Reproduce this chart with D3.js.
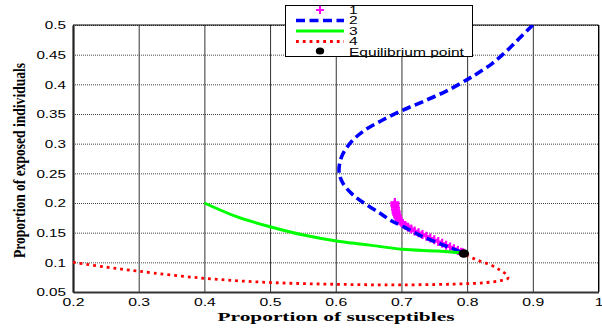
<!DOCTYPE html>
<html>
<head>
<meta charset="utf-8">
<script src="https://cdn.jsdelivr.net/npm/d3@7"></script>
<style>
  html, body { margin: 0; padding: 0; background: #fff; }
  svg { display: block; }
</style>
</head>
<body>
<svg id="chart" width="602" height="328"></svg>
<script>
// Phase-plane trajectories: susceptibles (x) vs exposed (y)
const xTicks = [0.2, 0.3, 0.4, 0.5, 0.6, 0.7, 0.8, 0.9, 1];
const xTickLabels = ["0.2", "0.3", "0.4", "0.5", "0.6", "0.7", "0.8", "0.9", "1"];
const yTicks = [0.05, 0.1, 0.15, 0.2, 0.25, 0.3, 0.35, 0.4, 0.45, 0.5];
const yTickLabels = ["0.05", "0.1", "0.15", "0.2", "0.25", "0.3", "0.35", "0.4", "0.45", "0.5"];

const seriesNames = ["1", "2", "3", "4", "Equilibrium point"];

// trajectory 1 (markers)
const traj1S = [0.690, 0.690, 0.690, 0.691, 0.691, 0.692, 0.692, 0.693, 0.694, 0.695, 0.697, 0.699, 0.702, 0.706, 0.710, 0.715, 0.720, 0.726, 0.732, 0.738, 0.744, 0.750, 0.756, 0.762, 0.768, 0.774, 0.780, 0.786, 0.791, 0.794];
const traj1E = [0.201, 0.198, 0.195, 0.192, 0.189, 0.186, 0.183, 0.180, 0.177, 0.174, 0.171, 0.168, 0.165, 0.162, 0.159, 0.156, 0.153, 0.150, 0.147, 0.144, 0.141, 0.138, 0.135, 0.132, 0.129, 0.126, 0.123, 0.120, 0.117, 0.116];

// trajectory 2 (dashed)
const traj2S = [0.900, 0.880, 0.860, 0.838, 0.815, 0.800, 0.769, 0.733, 0.701, 0.670, 0.642, 0.622, 0.609, 0.605, 0.611, 0.627, 0.647, 0.667, 0.683, 0.703, 0.733, 0.764, 0.789, 0.795];
const traj2E = [0.500, 0.478, 0.456, 0.435, 0.418, 0.408, 0.389, 0.371, 0.356, 0.339, 0.321, 0.301, 0.278, 0.253, 0.233, 0.213, 0.197, 0.183, 0.171, 0.160, 0.143, 0.129, 0.118, 0.115];

// trajectory 3 (solid)
const traj3S = [0.400, 0.449, 0.500, 0.551, 0.601, 0.637, 0.652, 0.701, 0.754, 0.789, 0.795];
const traj3E = [0.200, 0.177, 0.160, 0.146, 0.136, 0.131, 0.129, 0.122, 0.119, 0.116, 0.115];

// trajectory 4 (dotted)
const traj4S = [0.200, 0.250, 0.300, 0.400, 0.500, 0.600, 0.700, 0.800, 0.830, 0.850, 0.862, 0.860, 0.850, 0.835, 0.815, 0.800, 0.795];
const traj4E = [0.100, 0.092, 0.085, 0.073, 0.066, 0.063, 0.062, 0.064, 0.066, 0.069, 0.073, 0.079, 0.087, 0.096, 0.104, 0.112, 0.115];

// equilibrium point
const eqS = [0.795];
const eqE = [0.115];

const colors = { t1: "#ff00ff", t2: "#0000ff", t3: "#00ff00", t4: "#ff0000", eq: "#000000" };

const svg = d3.select("#chart");
const pLeft = 73, pRight = 598.5, pTop = 25, pBottom = 292;

const x = d3.scaleLinear().domain([0.2, 1]).range([pLeft, pRight]);
const y = d3.scaleLinear().domain([0.05, 0.5]).range([pBottom, pTop]);

const zip = (a, b) => a.map((v, i) => [v, b[i]]);

// widen text horizontally
function widen(sel, k) {
  sel.each(function () {
    const w = this.getComputedTextLength();
    d3.select(this).attr("textLength", w * k).attr("lengthAdjust", "spacingAndGlyphs");
  });
}

svg.append("defs").append("clipPath").attr("id", "plotClip")
  .append("rect").attr("x", pLeft).attr("y", pTop).attr("width", pRight - pLeft).attr("height", pBottom - pTop);

// vertical grid
const gx = svg.append("g").attr("transform", `translate(0,${pBottom})`)
  .call(d3.axisBottom(x).tickValues(xTicks).tickSize(-(pBottom - pTop)).tickFormat(""));
gx.select(".domain").remove();
gx.selectAll("line").attr("stroke", "#333").attr("stroke-width", 1);

// horizontal grid
const gy = svg.append("g").attr("transform", `translate(${pLeft},0)`)
  .call(d3.axisLeft(y).tickValues(yTicks).tickSize(-(pRight - pLeft)).tickFormat(""));
gy.select(".domain").remove();
gy.selectAll("line").attr("stroke", "#444").attr("stroke-width", 1).attr("stroke-dasharray", "1,1");

// frame
svg.append("line").attr("x1", pLeft).attr("x2", pRight).attr("y1", pTop).attr("y2", pTop).attr("stroke", "#000").attr("stroke-width", 1);
svg.append("line").attr("x1", pRight).attr("x2", pRight).attr("y1", pTop).attr("y2", pBottom).attr("stroke", "#000").attr("stroke-width", 1);

// axes with labels
const ax = svg.append("g").attr("transform", `translate(0,${pBottom})`)
  .call(d3.axisBottom(x).tickValues(xTicks).tickSize(0).tickFormat((d, i) => xTickLabels[i]));
ax.select(".domain").attr("stroke", "#333").attr("stroke-width", 2.2);
ax.selectAll("text").attr("y", 14).attr("dy", 0)
  .attr("font-family", "'Liberation Sans', Arial, sans-serif").attr("font-size", 10.5).attr("fill", "#000");

const ay = svg.append("g").attr("transform", `translate(${pLeft},0)`)
  .call(d3.axisLeft(y).tickValues(yTicks).tickSize(0).tickFormat((d, i) => yTickLabels[i]));
ay.select(".domain").attr("stroke", "#222").attr("stroke-width", 2.2);
ay.selectAll("text").attr("x", -7).attr("dy", "0.35em")
  .attr("font-family", "'Liberation Sans', Arial, sans-serif").attr("font-size", 10.5).attr("fill", "#000");

widen(ax.selectAll("text"), 1.5);
widen(ay.selectAll("text"), 1.45);

// data layer
const plot = svg.append("g").attr("clip-path", "url(#plotClip)");
const line = d3.line().x(d => x(d[0])).y(d => y(d[1])).curve(d3.curveCatmullRom.alpha(0.5));

// trajectory 1: plus markers
const plusPath = (cx, cy, s) => `M${cx - s},${cy}H${cx + s}M${cx},${cy - s}V${cy + s}`;
plot.append("g").selectAll("path").data(zip(traj1S, traj1E)).join("path")
  .attr("d", d => plusPath(x(d[0]), y(d[1]), 4.5))
  .attr("stroke", colors.t1).attr("stroke-width", 2.2).attr("fill", "none");

plot.append("path").datum(zip(traj2S, traj2E)).attr("d", line)
  .attr("fill", "none").attr("stroke", colors.t2).attr("stroke-width", 3.6).attr("stroke-dasharray", "9,4.5");

plot.append("path").datum(zip(traj3S, traj3E)).attr("d", line)
  .attr("fill", "none").attr("stroke", colors.t3).attr("stroke-width", 3);

plot.append("path").datum(zip(traj4S, traj4E)).attr("d", line)
  .attr("fill", "none").attr("stroke", colors.t4).attr("stroke-width", 2.8).attr("stroke-dasharray", "2.8,4");

plot.append("g").selectAll("ellipse").data(zip(eqS, eqE)).join("ellipse")
  .attr("cx", d => x(d[0])).attr("cy", d => y(d[1])).attr("rx", 5.2).attr("ry", 4.3).attr("fill", colors.eq);

// axis titles
svg.append("text").attr("x", 336).attr("y", 321).attr("text-anchor", "middle")
  .attr("font-family", "'Liberation Serif', 'Times New Roman', serif").attr("font-weight", "bold")
  .attr("font-size", 13).attr("fill", "#000")
  .attr("textLength", 237).attr("lengthAdjust", "spacingAndGlyphs")
  .text("Proportion of susceptibles");

svg.append("text").attr("transform", "translate(24.5,160.5) scale(1.45,1) rotate(-90)")
  .attr("text-anchor", "middle")
  .attr("font-family", "'Liberation Serif', 'Times New Roman', serif").attr("font-weight", "bold")
  .attr("font-size", 12).attr("fill", "#000")
  .attr("textLength", 195).attr("lengthAdjust", "spacingAndGlyphs")
  .text("Proportion of exposed individuals");

// legend
const lg = svg.append("g");
lg.append("rect").attr("x", 285.5).attr("y", 5.5).attr("width", 187).attr("height", 51)
  .attr("fill", "#fff").attr("stroke", "#000").attr("stroke-width", 1);
const rowY = [10, 20.5, 31, 41.5, 52];
const sx0 = 296, sx1 = 344, sxm = 320;
lg.append("path").attr("d", plusPath(sxm, rowY[0], 4)).attr("stroke", colors.t1).attr("stroke-width", 2);
lg.append("line").attr("x1", sx0).attr("x2", sx1).attr("y1", rowY[1]).attr("y2", rowY[1])
  .attr("stroke", colors.t2).attr("stroke-width", 3.6).attr("stroke-dasharray", "9,4.5");
lg.append("line").attr("x1", sx0).attr("x2", sx1).attr("y1", rowY[2]).attr("y2", rowY[2])
  .attr("stroke", colors.t3).attr("stroke-width", 3);
lg.append("line").attr("x1", sx0).attr("x2", sx1).attr("y1", rowY[3]).attr("y2", rowY[3])
  .attr("stroke", colors.t4).attr("stroke-width", 2.8).attr("stroke-dasharray", "2.8,4");
lg.append("ellipse").attr("cx", sxm).attr("cy", rowY[4] - 1).attr("rx", 4.2).attr("ry", 3.6).attr("fill", colors.eq);
const lt = lg.selectAll("text.lab").data(seriesNames).join("text").attr("class", "lab")
  .attr("x", 349).attr("y", (d, i) => rowY[i]).attr("dy", "0.36em")
  .attr("font-family", "'Liberation Sans', Arial, sans-serif").attr("font-size", 10.5).attr("fill", "#000")
  .text(d => d);
widen(lt, 1.48);
</script>
</body>
</html>
